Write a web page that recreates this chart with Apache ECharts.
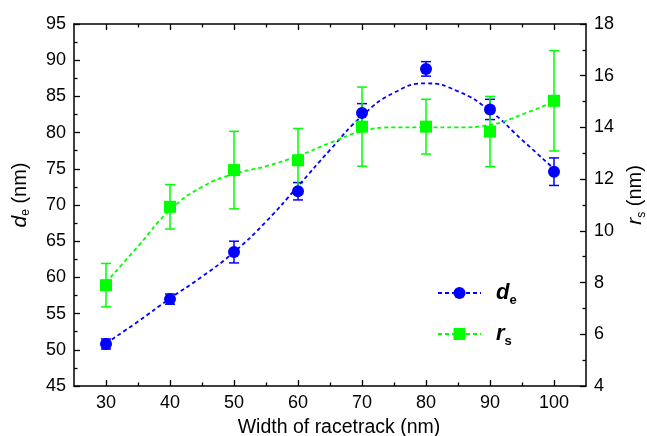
<!DOCTYPE html>
<html>
<head>
<meta charset="utf-8">
<script src="https://cdn.jsdelivr.net/npm/echarts@6/dist/echarts.min.js"></script>
<style>
html,body{margin:0;padding:0;background:#fff;}
#chart{width:647px;height:436px;}
</style>
</head>
<body>
<div id="chart"></div>
<script>
// ---- data ----
const xVals = [30, 40, 50, 60, 70, 80, 90, 100];
const deVals = [50.8, 57.0, 63.5, 71.9, 82.7, 88.8, 83.2, 74.6];
const deErr  = [0.7, 0.7, 1.5, 1.2, 1.3, 1.0, 1.4, 1.9];
const rsVals = [7.9, 10.93, 12.35, 12.73, 14.03, 14.03, 13.84, 15.03];
const rsErr  = [0.84, 0.86, 1.5, 1.23, 1.53, 1.06, 1.36, 1.94];

// fitted (dashed) curves
const fitX  = [30, 35, 40, 45, 50, 55, 60, 65, 70, 75, 80, 85, 90, 95, 100];
const deFit = [50.9, 53.9, 57.1, 60.1, 63.5, 67.7, 72.6, 77.6, 82.3, 85.5, 86.8, 85.7, 83.0, 79.0, 75.0];
const rsFit = [8.0, 9.4, 10.8, 11.7, 12.2, 12.5, 12.9, 13.4, 13.85, 14.0, 14.0, 14.0, 14.1, 14.5, 15.0];

// tick labels
const xTicks = [30, 40, 50, 60, 70, 80, 90, 100];
const xMinorTicks = [35, 45, 55, 65, 75, 85, 95];

const BLUE = '#0000ff';
const GREEN = '#00ff00';
const FONT = 'Liberation Sans, Arial, sans-serif';

const chart = echarts.init(document.getElementById('chart'), null, {renderer: 'canvas'});

function errRender(color) {
  return function (params, api) {
    const x = api.value(0), lo = api.value(1), hi = api.value(2);
    const a = api.coord([x, lo]);
    const b = api.coord([x, hi]);
    const hw = 5;
    const st = {stroke: color, lineWidth: 1.5};
    return {
      type: 'group',
      children: [
        {type: 'line', shape: {x1: a[0], y1: a[1], x2: b[0], y2: b[1]}, style: st},
        {type: 'line', shape: {x1: a[0] - hw, y1: a[1], x2: a[0] + hw, y2: a[1]}, style: st},
        {type: 'line', shape: {x1: b[0] - hw, y1: b[1], x2: b[0] + hw, y2: b[1]}, style: st}
      ]
    };
  };
}

const axisLineStyle = {color: '#000', width: 1.5};
const labelStyle = {color: '#000', fontSize: 18, fontFamily: FONT};

function xAxisDef(pos, major, showLine, showLabel) {
  return {
    type: 'value', position: pos, min: 25, max: 105, interval: 5,
    axisLine: {show: showLine, lineStyle: axisLineStyle},
    axisTick: {show: true, inside: true, length: major ? 6 : 3.5, customValues: major ? xTicks : xMinorTicks,
               lineStyle: {color: '#000', width: 1.3}},
    axisLabel: {show: showLabel, customValues: xTicks, margin: 8, ...labelStyle},
    splitLine: {show: false},
    name: showLabel ? 'Width of racetrack (nm)' : '',
    nameLocation: 'middle', nameGap: 32,
    nameTextStyle: {color: '#000', fontSize: 19.5, fontFamily: FONT, padding: [0, 0, 0, 18]}
  };
}

const subRich = {
  i: {fontStyle: 'italic', fontSize: 21, fontFamily: FONT, color: '#000', lineHeight: 24, verticalAlign: 'middle'},
  s: {fontSize: 12, fontFamily: FONT, color: '#000', lineHeight: 24, verticalAlign: 'bottom'}
};

const option = {
  backgroundColor: '#fff',
  animation: false,
  grid: {left: 74, right: 61, top: 24, bottom: 50, containLabel: false, outerBoundsMode: 'none'},
  xAxis: [
    xAxisDef('bottom', true, true, true),
    xAxisDef('bottom', false, false, false),
    xAxisDef('top', true, true, false),
    xAxisDef('top', false, false, false)
  ],
  yAxis: [
    {
      type: 'value', position: 'left', min: 45, max: 95, interval: 5,
      axisLine: {show: true, lineStyle: axisLineStyle},
      axisTick: {inside: true, length: 6, lineStyle: {color: '#000', width: 1.3}},
      minorTick: {show: true, splitNumber: 2, length: 3.5, lineStyle: {color: '#000', width: 1.3}},
      axisLabel: {margin: 8, ...labelStyle},
      splitLine: {show: false},
      name: '{i|d}{s|e} (nm)', nameLocation: 'middle', nameGap: 42,
      nameTextStyle: {color: '#000', fontSize: 20, fontFamily: FONT, padding: [0, 0, 0, 20], rich: subRich}
    },
    {
      type: 'value', position: 'right', min: 4, max: 18, interval: 2,
      axisLine: {show: true, lineStyle: axisLineStyle},
      axisTick: {inside: true, length: 6, lineStyle: {color: '#000', width: 1.3}},
      minorTick: {show: true, splitNumber: 2, length: 3.5, lineStyle: {color: '#000', width: 1.3}},
      axisLabel: {margin: 8, ...labelStyle},
      splitLine: {show: false},
      name: '{i|r}{s|s} (nm)', nameLocation: 'middle', nameGap: 31,
      nameTextStyle: {color: '#000', fontSize: 20, fontFamily: FONT, padding: [0, 0, 0, 20], rich: subRich}
    }
  ],
  legend: {
    orient: 'vertical', left: 432, top: 277,
    itemWidth: 43, itemHeight: 15, itemGap: 16,
    data: ['d_e', 'r_s'],
    formatter: function (name) { return name === 'd_e' ? '{i|d}{s|e}' : '{i|r}{s|s}'; },
    textStyle: {
      rich: {
        i: {fontStyle: 'italic', fontWeight: 'bold', fontSize: 22, fontFamily: FONT, color: '#000', lineHeight: 28, verticalAlign: 'middle', padding: [0, 0, 0, 10]},
        s: {fontWeight: 'bold', fontSize: 13, fontFamily: FONT, color: '#000', lineHeight: 28, verticalAlign: 'bottom'}
      }
    }
  },
  series: [
    {
      name: 'd_e', type: 'line', xAxisIndex: 0, yAxisIndex: 0,
      data: fitX.map((x, i) => [x, deFit[i]]),
      smooth: 0.5, showSymbol: false, symbol: 'circle', color: BLUE,
      lineStyle: {color: BLUE, width: 1.8, type: [4, 3]}, z: 2
    },
    {
      name: 'deErr', type: 'custom', xAxisIndex: 0, yAxisIndex: 0,
      data: xVals.map((x, i) => [x, deVals[i] - deErr[i], deVals[i] + deErr[i]]),
      encode: {x: 0, y: [1, 2]},
      renderItem: errRender(BLUE), z: 2
    },
    {
      name: 'dePts', type: 'scatter', xAxisIndex: 0, yAxisIndex: 0,
      data: xVals.map((x, i) => [x, deVals[i]]),
      symbol: 'circle', symbolSize: 12, itemStyle: {color: BLUE, opacity: 1}, z: 2
    },
    {
      name: 'r_s', type: 'line', xAxisIndex: 0, yAxisIndex: 1,
      data: fitX.map((x, i) => [x, rsFit[i]]),
      smooth: 0.5, showSymbol: false, symbol: 'rect', color: GREEN,
      lineStyle: {color: GREEN, width: 1.8, type: [4, 3]}, z: 2
    },
    {
      name: 'rsErr', type: 'custom', xAxisIndex: 0, yAxisIndex: 1,
      data: xVals.map((x, i) => [x, rsVals[i] - rsErr[i], rsVals[i] + rsErr[i]]),
      encode: {x: 0, y: [1, 2]},
      renderItem: errRender(GREEN), z: 2
    },
    {
      name: 'rsPts', type: 'scatter', xAxisIndex: 0, yAxisIndex: 1,
      data: xVals.map((x, i) => [x, rsVals[i]]),
      symbol: 'rect', symbolSize: 12, itemStyle: {color: GREEN, opacity: 1}, z: 2
    }
  ]
};
chart.setOption(option);
</script>
</body>
</html>
